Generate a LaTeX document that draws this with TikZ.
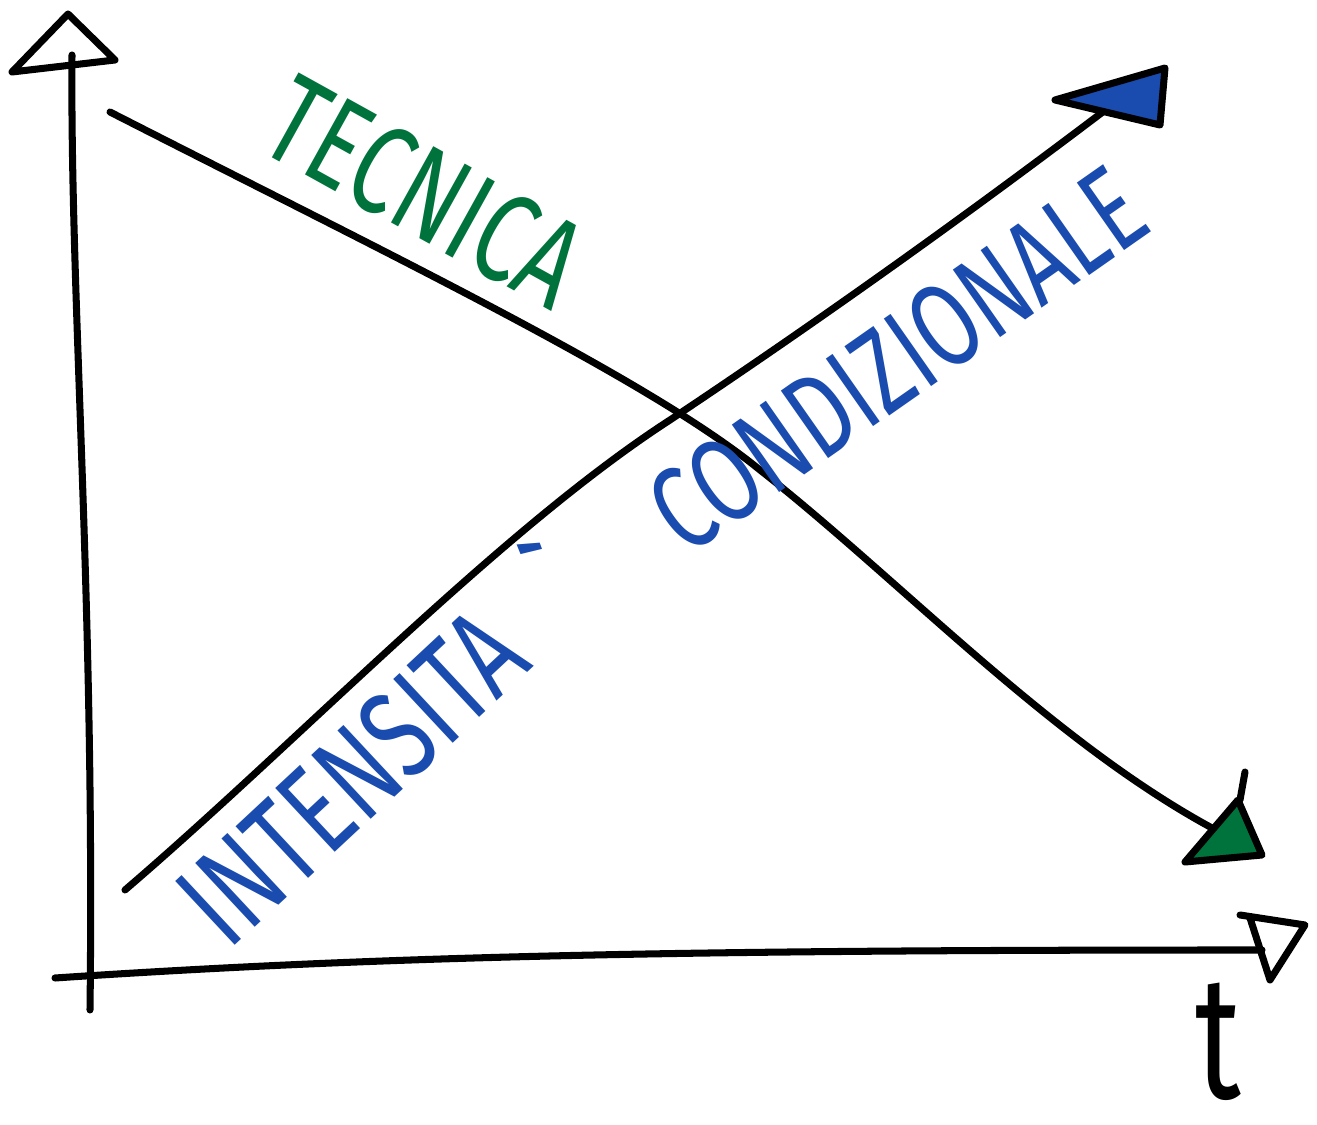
\documentclass[tikz,border=0pt]{standalone}
\usepackage{fontspec}
\newfontfamily\sketchfont[FakeStretch=0.72]{Fira Sans}
\usepackage{xcolor}
\usepackage{tikz}
\definecolor{tecgreen}{HTML}{00733C}
\definecolor{intblue}{HTML}{1A4BAF}
\tikzset{
  pen/.style={line width=2pt, line cap=round, line join=round},
  head/.style={pen, draw=black},
  word/.style={font=\sketchfont\fontsize{36}{36}\selectfont, inner sep=0pt}
}

\begin{document}
\begin{tikzpicture}[x=0.01cm, y=-0.01cm]
   			\useasboundingbox (0,0) rectangle (1317,1125);

   			% axes
   			\coordinate (O) at (90,1010);
   			\coordinate (Ytop) at (72,55);
   			\coordinate (X0) at (55,978);
   			\coordinate (Xend) at (1262,950);
   			\draw[pen] (O) .. controls (95,600) and (70,300) .. (Ytop);
   			\draw[pen] (X0) .. controls (400,955) and (700,950) .. (Xend);
   			\draw[head] (12,72) -- (115,60) -- (68,14) -- cycle;
   			\draw[head] (1240,915) -- (1305,925) -- (1270,980) -- (1250,918);

   			% tecnica (decreasing)
   			\coordinate (A) at (110,112);
   			\coordinate (B) at (1212,828);
   			\draw[pen] (A) .. controls (400,260) and (650,380) .. (760,470)
   			   .. controls (900,580) and (1050,740) .. (B);
   			\draw[head, fill=tecgreen] (1185,862) -- (1262,855) -- (1238,800) -- cycle;
   			\draw[pen] (1240,800) -- (1245,772);

   			% intensita condizionale (increasing)
   			\coordinate (C) at (125,890);
   			\coordinate (D) at (1112,105);
   			\draw[pen] (C) .. controls (300,740) and (500,530) .. (670,420)
   			   .. controls (850,300) and (1000,190) .. (D);
   			\draw[head, fill=intblue] (1055,100) -- (1165,68) -- (1160,125) -- cycle;

   			% labels
   			\node[word, tecgreen, rotate=-29] (tec) at (425,192) {TECNICA};
   			\node[word, intblue, rotate=43] (int) at (385,738) {INTENSITA\kern0.5em\textasciigrave};
   			\node[word, intblue, rotate=35, font=\sketchfont\fontsize{34}{34}\selectfont] (cond) at (897,360) {CONDIZIONALE};
   			\node[font=\sketchfont\fontsize{50}{50}\selectfont, inner sep=0pt] (t) at (1218,1042) {t};
   		\end{tikzpicture}
\end{document}
